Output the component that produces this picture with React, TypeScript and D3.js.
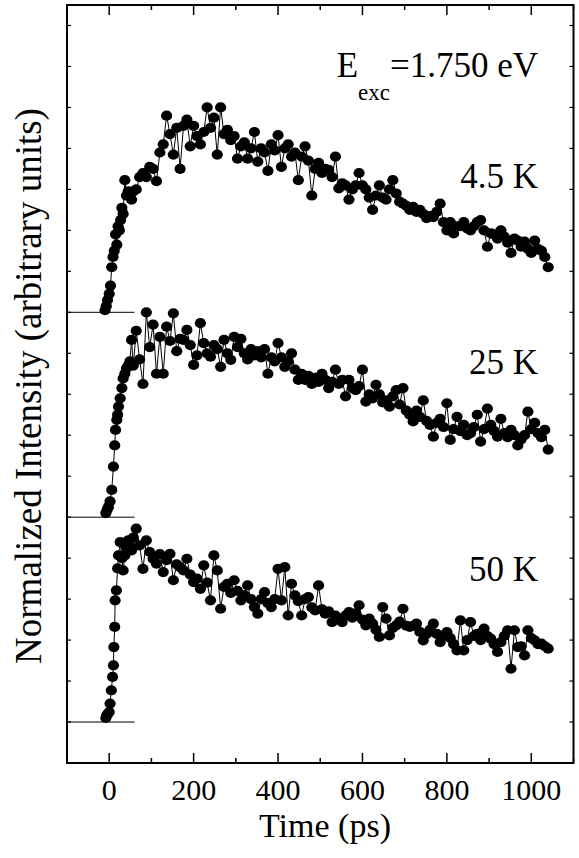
import React from "react";
import * as d3 from "d3";

// rise portion of each transient: [time (ps), normalized intensity]
const rise45: [number, number][] = [
  [-10, 0.01], [-7, 0.03], [-4, 0.06], [0, 0.09], [3, 0.13], [6, 0.22], [9, 0.27], [12, 0.3],
  [15, 0.38], [18, 0.33], [21, 0.42], [24, 0.4], [27, 0.45], [30, 0.51], [33, 0.48], [37, 0.645],
  [41, 0.57], [45, 0.59], [49, 0.58], [53, 0.55], [57, 0.59],
];
const rise25: [number, number][] = [
  [-8, 0.02], [-5, 0.036], [-2, 0.05], [2, 0.077], [6, 0.133], [10, 0.247], [13, 0.35], [15, 0.426],
  [18, 0.475], [20, 0.5], [22, 0.54], [26, 0.58], [30, 0.63], [33, 0.677], [37, 0.7], [41, 0.727],
  [45, 0.74], [49, 0.76], [53, 0.865], [57, 0.74],
];
const rise50: [number, number][] = [
  [-8, 0.02], [-6, 0.033], [-3, 0.04], [0, 0.049], [2, 0.09], [5, 0.155], [8, 0.22], [10, 0.277],
  [11, 0.366], [13, 0.464], [14, 0.594], [17, 0.643], [20, 0.75], [22, 0.813], [26, 0.878], [30, 0.8],
  [33, 0.74], [37, 0.813], [41, 0.85], [45, 0.887], [49, 0.86], [53, 0.838], [57, 0.9],
];

// decay portion, sampled at 64, 72, ... 1040 ps
const decayTimes = [
  64, 72, 80, 88, 96, 104, 112, 120, 128, 136,
  144, 152, 160, 168, 176, 184, 192, 200, 208, 216,
  224, 232, 240, 248, 256, 264, 272, 280, 288, 296,
  304, 312, 320, 328, 336, 344, 352, 360, 368, 376,
  384, 392, 400, 408, 416, 424, 432, 440, 448, 456,
  464, 472, 480, 488, 496, 504, 512, 520, 528, 536,
  544, 552, 560, 568, 576, 584, 592, 600, 608, 616,
  624, 632, 640, 648, 656, 664, 672, 680, 688, 696,
  704, 712, 720, 728, 736, 744, 752, 760, 768, 776,
  784, 792, 800, 808, 816, 824, 832, 840, 848, 856,
  864, 872, 880, 888, 896, 904, 912, 920, 928, 936,
  944, 952, 960, 968, 976, 984, 992, 1000, 1008, 1016,
  1024, 1032, 1040,
];
const decay45 = [
  0.6, 0.66, 0.68, 0.66, 0.71, 0.7, 0.64, 0.78, 0.82, 0.96,
  0.87, 0.77, 0.9, 0.7, 0.91, 0.94, 0.81, 0.91, 0.86, 0.82,
  0.88, 1.0, 0.9, 0.95, 0.77, 1.0, 0.87, 0.89, 0.84, 0.86,
  0.75, 0.81, 0.83, 0.75, 0.8, 0.88, 0.735, 0.8, 0.78, 0.69,
  0.82, 0.79, 0.865, 0.71, 0.8, 0.82, 0.76, 0.78, 0.645, 0.76,
  0.81, 0.74, 0.57, 0.7, 0.73, 0.68, 0.7, 0.695, 0.66, 0.76,
  0.605, 0.63, 0.62, 0.55, 0.6, 0.62, 0.68, 0.62, 0.6, 0.56,
  0.5, 0.57, 0.62, 0.56, 0.55, 0.6, 0.645, 0.58, 0.54, 0.53,
  0.52, 0.5, 0.515, 0.49, 0.5, 0.48, 0.46, 0.47, 0.465, 0.49,
  0.53, 0.44, 0.4, 0.44, 0.385, 0.42, 0.42, 0.44, 0.41, 0.4,
  0.42, 0.44, 0.45, 0.4, 0.32, 0.385, 0.38, 0.36, 0.4, 0.37,
  0.34, 0.29, 0.36, 0.35, 0.32, 0.345, 0.31, 0.29, 0.35, 0.31,
  0.3, 0.27, 0.22,
];
const decay25 = [
  0.91, 0.77, 0.65, 1.0, 0.83, 0.94, 0.7, 0.88, 0.7, 0.93,
  0.86, 0.995, 0.81, 0.87, 0.865, 0.914, 0.84, 0.743, 0.79, 0.947,
  0.85, 0.8, 0.783, 0.84, 0.82, 0.734, 0.865, 0.8, 0.768, 0.88,
  0.83, 0.87, 0.8, 0.77, 0.82, 0.79, 0.81, 0.78, 0.82, 0.7,
  0.78, 0.76, 0.85, 0.78, 0.734, 0.76, 0.8, 0.72, 0.67, 0.7,
  0.67, 0.69, 0.65, 0.68, 0.66, 0.7, 0.67, 0.63, 0.66, 0.72,
  0.65, 0.67, 0.59, 0.67, 0.63, 0.62, 0.64, 0.72, 0.564, 0.6,
  0.58, 0.646, 0.6, 0.56, 0.57, 0.54, 0.59, 0.62, 0.55, 0.63,
  0.52, 0.5, 0.467, 0.52, 0.49, 0.57, 0.47, 0.45, 0.393, 0.46,
  0.48, 0.44, 0.556, 0.377, 0.43, 0.49, 0.42, 0.45, 0.4, 0.41,
  0.44, 0.5, 0.369, 0.43, 0.53, 0.45, 0.42, 0.393, 0.48, 0.41,
  0.39, 0.426, 0.4, 0.35, 0.38, 0.4, 0.515, 0.43, 0.46, 0.41,
  0.39, 0.426, 0.33,
];
const decay50 = [
  0.944, 0.862, 0.748, 0.887, 0.83, 0.797, 0.773, 0.82, 0.732, 0.79,
  0.821, 0.692, 0.77, 0.756, 0.74, 0.797, 0.72, 0.683, 0.7, 0.65,
  0.765, 0.68, 0.594, 0.813, 0.74, 0.553, 0.66, 0.675, 0.63, 0.692,
  0.64, 0.594, 0.62, 0.667, 0.6, 0.561, 0.529, 0.6, 0.634, 0.58,
  0.561, 0.6, 0.748, 0.594, 0.756, 0.52, 0.675, 0.618, 0.59, 0.52,
  0.6, 0.61, 0.56, 0.545, 0.667, 0.55, 0.529, 0.54, 0.488, 0.52,
  0.5, 0.488, 0.52, 0.537, 0.51, 0.53, 0.57, 0.5, 0.472, 0.505,
  0.48, 0.45, 0.415, 0.561, 0.505, 0.423, 0.46, 0.472, 0.49, 0.553,
  0.47, 0.464, 0.47, 0.48, 0.44, 0.399, 0.43, 0.45, 0.48, 0.43,
  0.39, 0.42, 0.439, 0.41, 0.38, 0.35, 0.496, 0.35, 0.4, 0.488,
  0.42, 0.431, 0.4, 0.456, 0.42, 0.407, 0.38, 0.342, 0.39, 0.42,
  0.448, 0.26, 0.448, 0.366, 0.37, 0.325, 0.448, 0.41, 0.399, 0.38,
  0.383, 0.37, 0.358,
];

const temps = ["4.5 K", "25 K", "50 K"];
const offsets = [2, 1, 0];
const xTicks = [0, 200, 400, 600, 800, 1000];

export default function App() {
  const W = 579, H = 858;
  const x = d3.scaleLinear().domain([-100, 1100]).range([67, 573.5]);
  const y = d3.scaleLinear().domain([-0.2, 3.5]).range([763, 5]);

  const build = (rise: [number, number][], decay: number[]) =>
    rise.concat(decayTimes.map((t, i) => [t, decay[i]] as [number, number]));
  const curves = [build(rise45, decay45), build(rise25, decay25), build(rise50, decay50)];

  const minorX = d3.range(-100, 1101, 100);
  const yMinor = d3.range(0, 3.45, 0.2);
  const font = "'Liberation Serif', 'Times New Roman', serif";

  return (
    <svg width={W} height={H} style={{ position: "absolute", left: 0, top: 0 }}>
      <rect width={W} height={H} fill="#fff" />
      {/* baselines */}
      {offsets.map((o) => (
        <line key={"b" + o} x1={x(-100)} x2={x(60)} y1={y(o)} y2={y(o)} stroke="#000" strokeWidth={1} />
      ))}
      {curves.map((c, k) => {
        const line = d3
          .line<[number, number]>()
          .x((d) => x(d[0]))
          .y((d) => y(d[1] + offsets[k]));
        return (
          <g key={"c" + k}>
            <path d={line(c) || ""} fill="none" stroke="#000" strokeWidth={1} />
            {c.map((d, i) => (
              <ellipse key={i} cx={x(d[0])} cy={y(d[1] + offsets[k])} rx={5.6} ry={5.1} fill="#000" />
            ))}
          </g>
        );
      })}
      {/* frame */}
      <rect x={x(-100)} y={y(3.5)} width={x(1100) - x(-100)} height={y(-0.2) - y(3.5)}
        fill="none" stroke="#000" strokeWidth={2} />
      {minorX.map((t) => {
        const len = xTicks.includes(t) ? 10 : 5;
        return (
          <g key={"xt" + t} stroke="#000" strokeWidth={1.5}>
            <line x1={x(t)} x2={x(t)} y1={y(-0.2)} y2={y(-0.2) - len} />
            <line x1={x(t)} x2={x(t)} y1={y(3.5)} y2={y(3.5) + len} />
          </g>
        );
      })}
      {yMinor.map((v) => (
        <g key={"yt" + v} stroke="#000" strokeWidth={1.2}>
          <line x1={x(-100)} x2={x(-100) + 4} y1={y(v)} y2={y(v)} />
          <line x1={x(1100)} x2={x(1100) - 4} y1={y(v)} y2={y(v)} />
        </g>
      ))}
      {xTicks.map((t) => (
        <text key={"xl" + t} x={x(t)} y={800} textAnchor="middle" fontFamily={font} fontSize={30}>
          {t}
        </text>
      ))}
      <text x={325} y={837} textAnchor="middle" fontFamily={font} fontSize={34}>
        Time (ps)
      </text>
      <text transform="translate(41,386) rotate(-90)" textAnchor="middle" fontFamily={font} fontSize={37}>
        Normalized Intensity (arbitrary units)
      </text>
      {temps.map((t, k) => (
        <text key={t} x={538} y={y(offsets[k] + [0.605, 0.7, 0.69][k])} textAnchor="end" fontFamily={font} fontSize={35}>
          {t}
        </text>
      ))}
      <text x={538} y={77} textAnchor="end" fontFamily={font} fontSize={35}>
        E
        <tspan fontSize={23} dy={23}>exc</tspan>
        <tspan dy={-23}>=1.750 eV</tspan>
      </text>
    </svg>
  );
}
